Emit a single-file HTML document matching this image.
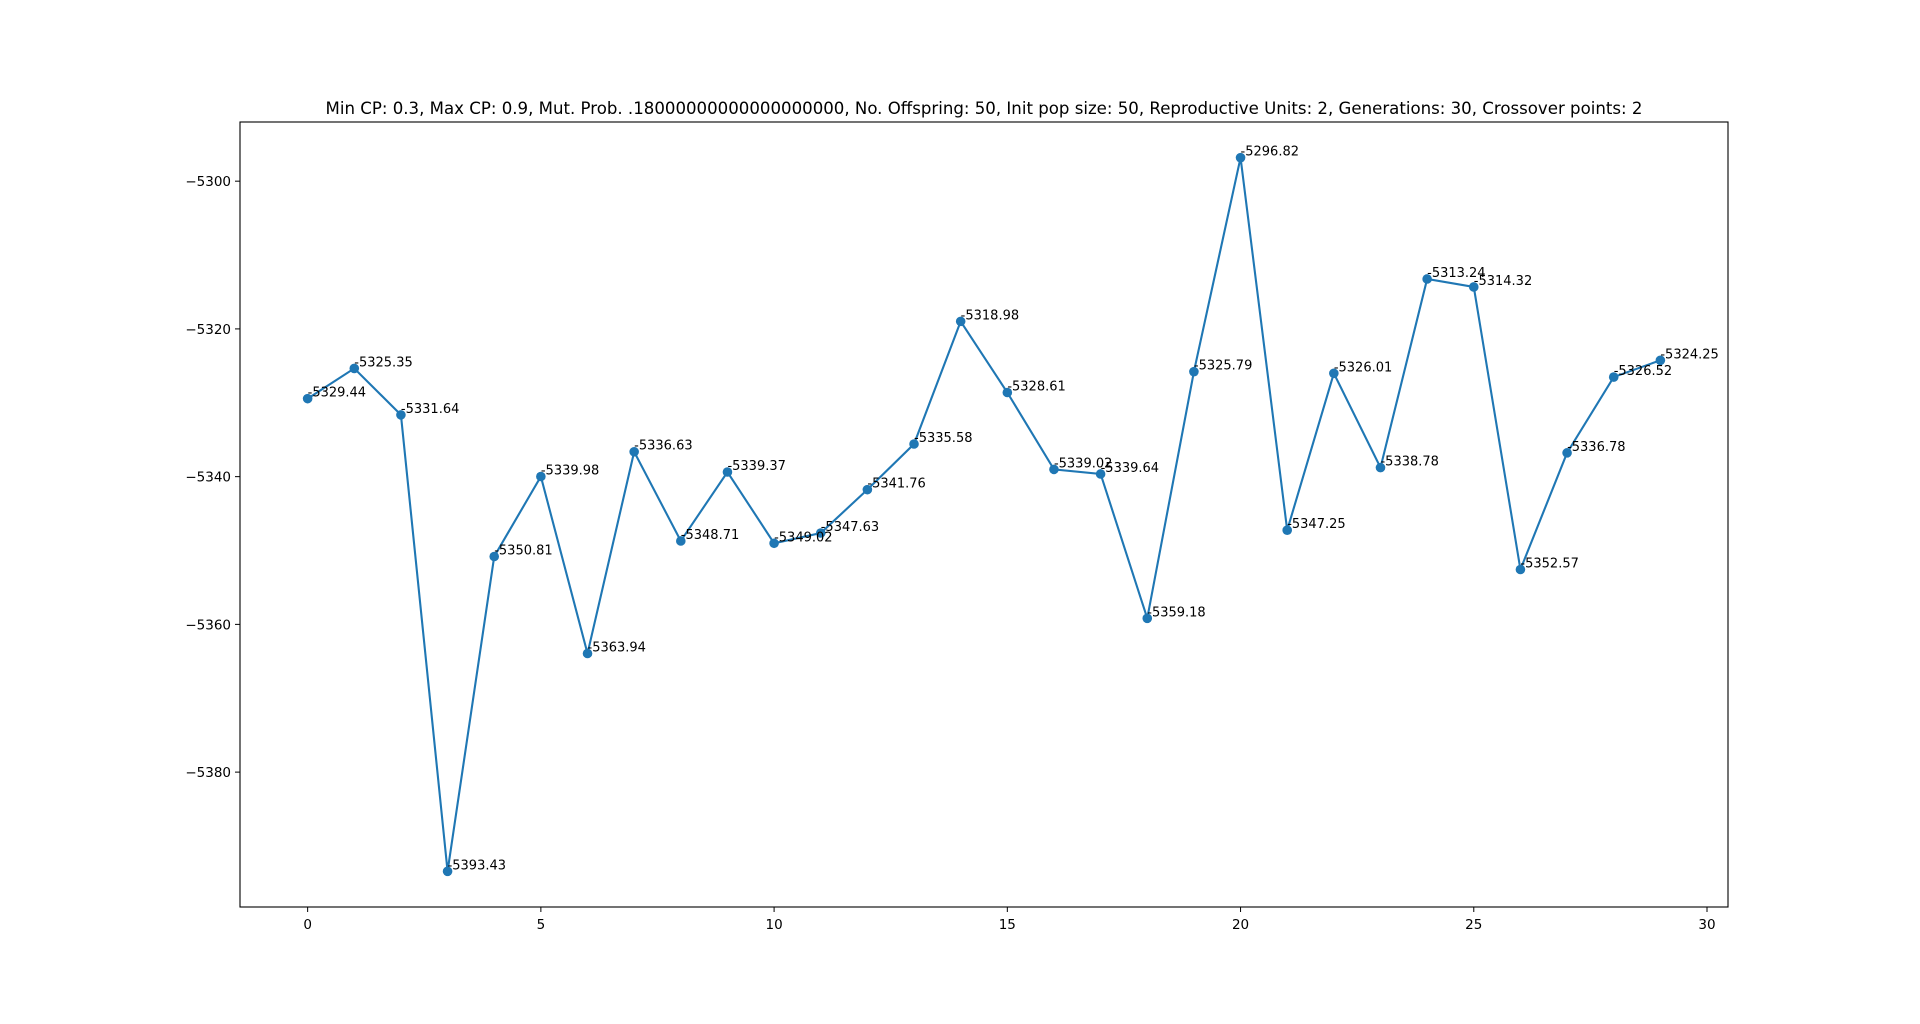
<!DOCTYPE html>
<html><head><meta charset="utf-8"><style>
html,body{margin:0;padding:0;background:#fff;}
svg text{font-family:"DejaVu Sans","Liberation Sans",sans-serif;}
</style></head><body>
<svg id="chart" width="1920" height="1019" xmlns="http://www.w3.org/2000/svg">
<rect width="1920" height="1019" fill="#fff"/>
<text x="984" y="114" font-size="16.6" text-anchor="middle">Min CP: 0.3, Max CP: 0.9, Mut. Prob. .18000000000000000000, No. Offspring: 50, Init pop size: 50, Reproductive Units: 2, Generations: 30, Crossover points: 2</text>
<g id="plot"></g>
<rect x="240" y="122" width="1488" height="785" fill="none" stroke="#000" stroke-width="1.1"/>
</svg>
<script>
const generations = [0,1,2,3,4,5,6,7,8,9,10,11,12,13,14,15,16,17,18,19,20,21,22,23,24,25,26,27,28,29];
const fitness = [-5329.44,-5325.35,-5331.64,-5393.43,-5350.81,-5339.98,-5363.94,-5336.63,-5348.71,-5339.37,-5349.02,-5347.63,-5341.76,-5335.58,-5318.98,-5328.61,-5339.02,-5339.64,-5359.18,-5325.79,-5296.82,-5347.25,-5326.01,-5338.78,-5313.24,-5314.32,-5352.57,-5336.78,-5326.52,-5324.25];
const xTicks = [0,5,10,15,20,25,30];
const yTicks = [-5380,-5360,-5340,-5320,-5300];

const L=240,R=1728,T=122,B=907;
const xmin=Math.min(...generations),xmax=Math.max(...generations),xm=(xmax-xmin)*0.05;
const ymin=Math.min(...fitness),ymax=Math.max(...fitness),ym=(ymax-ymin)*0.05;
const X=v=>L+(v-(xmin-xm))/((xmax+xm)-(xmin-xm))*(R-L);
const Y=v=>B-(v-(ymin-ym))/((ymax+ym)-(ymin-ym))*(B-T);
const NS='http://www.w3.org/2000/svg';
const g=document.getElementById('plot');
function mk(tag,attrs){const e=document.createElementNS(NS,tag);for(const k in attrs)e.setAttribute(k,attrs[k]);g.appendChild(e);return e;}
xTicks.forEach(t=>{
  const l=mk('line',{x1:X(t),x2:X(t),y1:B,y2:B+5,stroke:'#000','stroke-width':1});
  
  
  const tx=mk('text',{x:X(t),y:B+22,'font-size':13.5,'text-anchor':'middle'});
  tx.textContent=t;
  
  
});
yTicks.forEach(t=>{
  const l=mk('line',{x1:L-5,x2:L,y1:Y(t),y2:Y(t),stroke:'#000','stroke-width':1});
  
  
  const tx=mk('text',{x:L-9,y:Y(t)+5,'font-size':13.5,'text-anchor':'end'});
  tx.textContent='\u2212'+Math.abs(t);
  
  
});
const pts=generations.map((x,i)=>X(x)+','+Y(fitness[i])).join(' ');
const pl=mk('polyline',{points:pts,fill:'none',stroke:'#1f77b4','stroke-width':2.1});


generations.forEach((x,i)=>{
  const c=mk('circle',{cx:X(x),cy:Y(fitness[i]),r:4.8,fill:'#1f77b4'});
  
  
});
generations.forEach((x,i)=>{
  const t=mk('text',{x:X(x),y:Y(fitness[i])-2,'font-size':13});
  t.textContent=fitness[i].toFixed(2);
  
  
});
</script>
</body></html>
